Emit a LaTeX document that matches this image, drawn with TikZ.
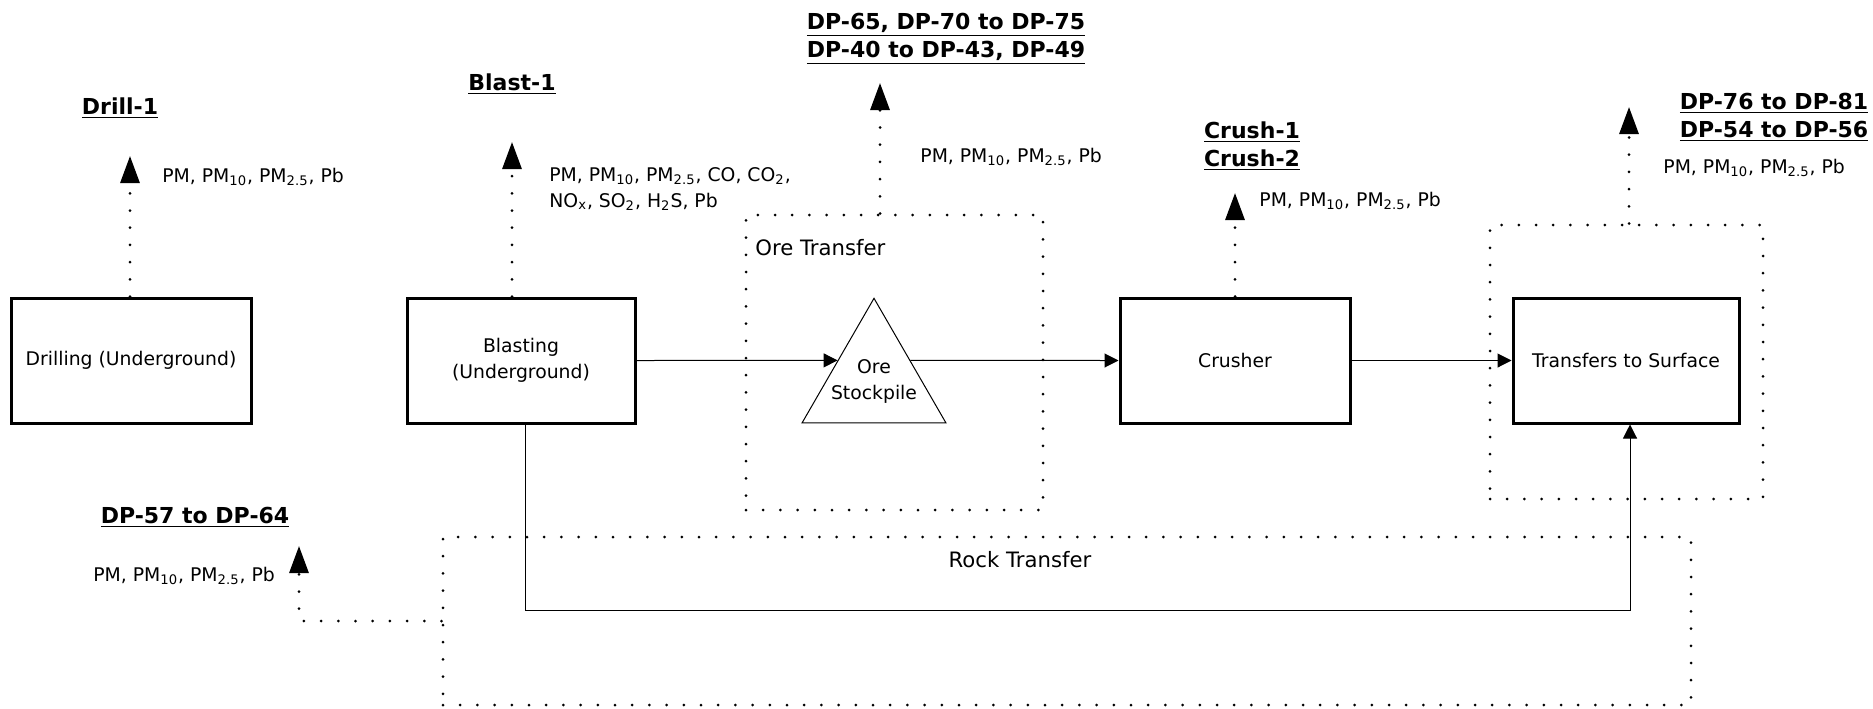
\documentclass[tikz,border=0pt]{standalone}
\usepackage{fontspec}
\setmainfont{DejaVu Sans}
\usetikzlibrary{arrows.meta,shapes.geometric,calc}
\newcommand{\pmlist}{PM, PM\textsubscript{10}, PM\textsubscript{2.5}, Pb}
\begin{document}
\begin{tikzpicture}[x=0.5pt,y=-0.5pt,
  every node/.style={font=\fontsize{9.4}{13}\selectfont, inner sep=0pt},
  procbox/.style={draw, line width=1.5pt, minimum height=62.5pt, align=center},
  grpbox/.style={draw, line width=1.5pt, line cap=round, dash pattern=on 0pt off 8.6pt},
  dotline/.style={line width=1.5pt, line cap=round, dash pattern=on 0pt off 8.6pt},
  emis/.style={-{Triangle[length=13.5pt,width=9.5pt]}},
  flow/.style={line width=0.5pt, -{Triangle[length=7pt,width=7pt]}},
  thinline/.style={line width=0.5pt},
  dplbl/.style={font=\fontsize{11}{14}\selectfont\bfseries, align=center},
  grplbl/.style={font=\fontsize{10.6}{13}\selectfont},
  emtxt/.style={anchor=west, align=left},
  tri/.style={draw, line width=0.5pt, regular polygon, regular polygon sides=3, minimum size=83.1pt, inner sep=0pt}
]
\useasboundingbox (0,0) rectangle (1873,708);

% group boxes
\node[grpbox, minimum width=148.5pt, minimum height=147.5pt] (oregrp) at (894.5,362.5) {};
\node[grpbox, minimum width=136.5pt, minimum height=137pt] (xfergrp) at (1626.5,362) {};
\node[grpbox, minimum width=624pt, minimum height=84pt] (rockgrp) at (1067,621) {};
\node[grplbl, anchor=west] (oregrplbl) at (755,248) {Ore Transfer};
\node[grplbl] (rockgrplbl) at (1020,560) {Rock Transfer};

% process boxes
\node[procbox, minimum width=120pt] (drill) at (131,360.5) {Drilling (Underground)};
\node[procbox, minimum width=114pt] (blast) at (521,360.5) {Blasting\\(Underground)};
\node[tri] (stock) at (874,381.4) {};
\node[align=center] (stocktxt) at (874,381) {Ore\\Stockpile};
\node[procbox, minimum width=115pt] (crusher) at (1235,360.5) {Crusher};
\node[procbox, minimum width=113pt] (xfer) at (1626,360.5) {Transfers to Surface};

% emission tips
\coordinate (drilltip) at (130,156);
\coordinate (blasttip) at (512,142);
\coordinate (oretip) at (880,83);
\coordinate (crushtip) at (1235,193);
\coordinate (xfertip) at (1629,107);
\coordinate (rocktip) at (299,546);

% emission arrows
\draw[dotline, emis] (drill.north -| drilltip) -- (drilltip);
\draw[dotline, emis] (blast.north -| blasttip) -- (blasttip);
\draw[dotline, emis] (oregrp.north -| oretip) -- (oretip);
\draw[dotline, emis] (crusher.north -| crushtip) -- (crushtip);
\draw[dotline, emis] (xfergrp.north -| xfertip) -- (xfertip);
\draw[dotline, emis] (rockgrp.west) -| (rocktip);

% labels
\node[dplbl] (drilllbl) at (120,108) {\underline{Drill-1}};
\node[emtxt] (drillem) at (162,177) {\pmlist};
\node[dplbl] (blastlbl) at (512,84) {\underline{Blast-1}};
\node[emtxt] (blastem) at (549,189) {PM, PM\textsubscript{10}, PM\textsubscript{2.5}, CO, CO\textsubscript{2},\\NO\textsubscript{x}, SO\textsubscript{2}, H\textsubscript{2}S, Pb};
\node[dplbl] (orelbl) at (946,39) {\underline{DP-65, DP-70 to DP-75}\\\underline{DP-40 to DP-43, DP-49}};
\node[emtxt] (oreem) at (920,157) {\pmlist};
\node[dplbl] (crushlbl) at (1252,146) {\underline{Crush-1}\\\underline{Crush-2}};
\node[emtxt] (crushem) at (1259,201) {\pmlist};
\node[dplbl] (xferlbl) at (1774,117) {\underline{DP-76 to DP-81}\\\underline{DP-54 to DP-56}};
\node[emtxt] (xferem) at (1663,168) {\pmlist};
\node[dplbl] (rocklbl) at (195,517) {\underline{DP-57 to DP-64}};
\node[emtxt] (rockem) at (93,576) {\pmlist};

% flow connectors
\draw[flow] (blast.east) -- ($(stock.corner 1)!0.5!(stock.corner 2)$);
\draw[flow] ($(stock.corner 1)!0.5!(stock.corner 3)$) -- (crusher.west);
\draw[flow] (crusher.east) -- (xfer.west);
\coordinate (rockA) at (525,610);
\coordinate (rockB) at (1630,610);
\draw[flow] (blast.south -| rockA) -- (rockA) -- (rockB) -- (rockB |- xfer.south);
\end{tikzpicture}
\end{document}
